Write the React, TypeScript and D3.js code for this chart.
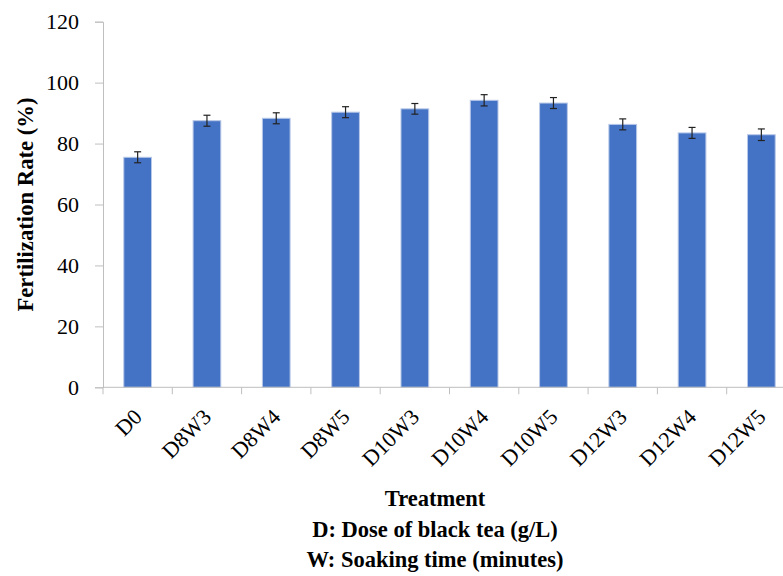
import React, { useEffect, useRef } from "react";
import * as d3 from "d3";

const treatments = ["D0", "D8W3", "D8W4", "D8W5", "D10W3", "D10W4", "D10W5", "D12W3", "D12W4", "D12W5"];
const fertRate = [75.5, 87.5, 88.3, 90.3, 91.4, 94.2, 93.3, 86.3, 83.5, 82.9];
const fertErr = [1.8, 1.8, 1.8, 1.8, 1.75, 1.85, 1.8, 1.8, 1.8, 1.9];
const yTicks = [0, 20, 40, 60, 80, 100, 120];

const App = () => {
  const ref = useRef<SVGSVGElement>(null);

  useEffect(() => {
    const svg = d3.select(ref.current);
    svg.selectAll("*").remove();

    const left = 103;
    const right = 796;
    const top = 21.7;
    const bottom = 387.3;
    const font = "'Liberation Serif', 'Times New Roman', serif";

    const x = d3.scaleBand().domain(treatments).range([left, right]).paddingInner(0.6).paddingOuter(0.3);
    const y = d3.scaleLinear().domain([0, 120]).range([bottom, top]);

    const data = treatments.map((t, i) => ({ t, v: fertRate[i], e: fertErr[i] }));

    // bars
    svg.append("g")
      .selectAll("rect")
      .data(data)
      .enter()
      .append("rect")
      .attr("x", (d) => x(d.t)!)
      .attr("y", (d) => y(d.v))
      .attr("width", x.bandwidth())
      .attr("height", (d) => y(0) - y(d.v))
      .attr("fill", "#4472C4")
      .attr("stroke", "#b8c8e8")
      .attr("stroke-width", 1);

    // error bars
    const eb = svg.append("g").attr("stroke", "#222").attr("stroke-width", 1.2);
    data.forEach((d) => {
      const cx = x(d.t)! + x.bandwidth() / 2;
      eb.append("line").attr("x1", cx).attr("x2", cx).attr("y1", y(d.v + d.e)).attr("y2", y(d.v - d.e));
      eb.append("line").attr("x1", cx - 3.5).attr("x2", cx + 3.5).attr("y1", y(d.v + d.e)).attr("y2", y(d.v + d.e));
      eb.append("line").attr("x1", cx - 3.5).attr("x2", cx + 3.5).attr("y1", y(d.v - d.e)).attr("y2", y(d.v - d.e));
    });

    // y axis
    const yAxis = svg.append("g")
      .attr("transform", `translate(${left},0)`)
      .call(d3.axisLeft(y).tickValues(yTicks).tickSize(8).tickPadding(16));
    yAxis.select(".domain").attr("stroke", "#bfbfbf");
    yAxis.selectAll(".tick line").attr("stroke", "#bfbfbf");
    yAxis.selectAll(".tick text")
      .attr("font-family", font)
      .attr("font-size", 22)
      .attr("fill", "#000");

    // x axis
    const xAxis = svg.append("g").attr("transform", `translate(0,${bottom})`);
    xAxis.append("line")
      .attr("x1", left).attr("x2", right)
      .attr("stroke", "#bfbfbf");
    const edges = treatments.map((t) => x(t)! - (x.step() - x.bandwidth()) / 2);
    edges.push(right);
    xAxis.selectAll(".xt")
      .data(edges)
      .enter()
      .append("line")
      .attr("x1", (d) => d).attr("x2", (d) => d)
      .attr("y1", 0).attr("y2", 7)
      .attr("stroke", "#bfbfbf");
    xAxis.selectAll(".xl")
      .data(treatments)
      .enter()
      .append("text")
      .attr("text-anchor", "end")
      .attr("font-family", font)
      .attr("font-size", 22)
      .attr("fill", "#000")
      .attr("transform", (d) => `translate(${x(d)! + x.bandwidth() / 2 + 5.6},${31}) rotate(-45)`)
      .text((d) => d);

    // axis titles
    svg.append("text")
      .attr("transform", `translate(33,${(top + bottom) / 2}) rotate(-90)`)
      .attr("text-anchor", "middle")
      .attr("font-family", font)
      .attr("font-weight", "bold")
      .attr("font-size", 22.7)
      .text("Fertilization Rate (%)");

    const titles = ["Treatment", "D: Dose of black tea (g/L)", "W: Soaking time (minutes)"];
    svg.selectAll(".xtitle")
      .data(titles)
      .enter()
      .append("text")
      .attr("x", 435)
      .attr("y", (d, i) => 506 + i * 30.7)
      .attr("text-anchor", "middle")
      .attr("font-family", font)
      .attr("font-weight", "bold")
      .attr("font-size", 22.5)
      .text((d) => d);
  }, []);

  return (
    <svg
      ref={ref}
      width={783}
      height={576}
      style={{ position: "absolute", left: 0, top: 0, overflow: "hidden", background: "#fff" }}
    />
  );
};

export default App;
